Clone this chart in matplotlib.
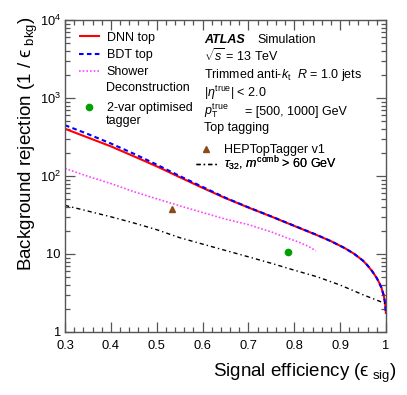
import matplotlib
matplotlib.use('Agg')
import matplotlib.pyplot as plt
from matplotlib.ticker import FixedLocator, LogLocator, MultipleLocator, NullFormatter

plt.rcParams['font.family'] = ['Liberation Sans', 'DejaVu Sans']
plt.rcParams['mathtext.fontset'] = 'custom'
plt.rcParams['mathtext.rm'] = 'Liberation Sans'
plt.rcParams['mathtext.it'] = 'Liberation Sans:italic'
plt.rcParams['mathtext.bf'] = 'Liberation Sans:bold'

# ---------------- data ----------------
eff = [0.30, 0.35, 0.40, 0.45, 0.50, 0.55, 0.60, 0.65, 0.70, 0.75, 0.80, 0.85,
       0.88, 0.91, 0.93, 0.95, 0.96, 0.97, 0.98, 0.985, 0.99, 0.995, 0.998, 1.0]
dnn = [403, 311, 240, 179, 133, 96.6, 70.5, 52, 39.4, 30.2, 22.9, 17.4,
       14.6, 11.9, 10.1, 8.2, 7.1, 6.0, 4.9, 4.3, 3.7, 2.95, 2.35, 1.7]
bdt = [448, 345, 261, 193, 140, 100, 72.5, 52.6, 39.6, 30.3, 23.0, 17.5,
       14.6, 11.9, 10.1, 8.2, 7.1, 6.0, 4.9, 4.3, 3.7, 2.95, 2.35, 1.7]

sd_eff = [0.30, 0.35, 0.40, 0.45, 0.50, 0.55, 0.60, 0.65, 0.70, 0.75, 0.78, 0.81,
          0.83, 0.847]
sd = [125, 99, 80, 63, 51, 41.5, 34, 28, 23.8, 19.2, 16.4, 14.2, 12.6, 11.0]

tau_eff = [0.30, 0.35, 0.40, 0.45, 0.50, 0.55, 0.60, 0.65, 0.70, 0.75, 0.80, 0.85,
           0.90, 0.95, 1.0]
tau = [42, 35.5, 30, 25, 20.5, 16.2, 13.4, 11.1, 9.2, 7.6, 6.2, 5.1, 4.0, 3.0, 2.3]

htt_eff = [0.534]
htt_rej = [37.6]
twovar_eff = [0.787]
twovar_rej = [10.5]

x_ticks = [0.3, 0.4, 0.5, 0.6, 0.7, 0.8, 0.9, 1.0]
x_ticklabels = ['0.3', '0.4', '0.5', '0.6', '0.7', '0.8', '0.9', '1']
y_ticks = [1, 10, 100, 1000, 10000]
y_ticklabels = ['1', '10', r'10$^{2}$', r'10$^{3}$', r'10$^{4}$']

# ---------------- figure ----------------
W, H = 407, 395
fig = plt.figure(figsize=(W / 100, H / 100), dpi=100)
ax = fig.add_axes([65 / W, 1 - 332 / H, (386 - 65) / W, (332 - 20) / H])

def fx(px):
    return px / W

def fy(py):
    return 1 - py / H

l_dnn, = ax.plot(eff, dnn, color='#ff0000', lw=1.5, solid_capstyle='butt')
l_bdt, = ax.plot(eff, bdt, color='#0000ff', lw=1.5, dashes=(2.2, 1.6))
l_sd, = ax.plot(sd_eff, sd, color='#ff44ff', lw=1.2, dashes=(1, 1.2))
l_tau, = ax.plot(tau_eff, tau, color='black', lw=1.0, dashes=(3, 2.2, 1, 2.2))
m_2v, = ax.plot(twovar_eff, twovar_rej, 'o', color='#00a000', ms=4.5, ls='none')
m_htt, = ax.plot(htt_eff, htt_rej, '^', color='#8b4a16', ms=4.5, ls='none')

ax.set_xlim(0.3, 1.0)
ax.set_yscale('log')
ax.set_ylim(1, 1e4)

ax.xaxis.set_major_locator(FixedLocator(x_ticks))
ax.set_xticklabels(x_ticklabels)
ax.xaxis.set_minor_locator(MultipleLocator(0.02))
ax.yaxis.set_major_locator(FixedLocator(y_ticks))
ax.set_yticklabels(y_ticklabels)
ax.yaxis.set_minor_locator(LogLocator(base=10, subs=range(2, 10), numticks=20))
ax.yaxis.set_minor_formatter(NullFormatter())

spine_col = '#555555'
for s in ax.spines.values():
    s.set_color(spine_col)
    s.set_linewidth(1.0)
ax.tick_params(which='both', direction='in', top=True, right=True, color=spine_col,
               width=0.9, labelsize=9.3)
ax.tick_params(which='major', length=7)
ax.tick_params(which='minor', length=3.8)
ax.tick_params(axis='x', pad=6)
ax.tick_params(axis='y', pad=3)

ax.set_xlabel('Signal efficiency (\u03f5$_{\\rm\\ sig}$)', fontsize=13.5)
ax.xaxis.label.set_ha('right')
ax.xaxis.label.set_va('center')
ax.xaxis.set_label_coords(1.034, (332 - 373) / 312)
ax.set_ylabel('Background rejection (1 / \u03f5$_{\\rm\\ bkg}$)', fontsize=13.5)
ax.yaxis.label.set_ha('right')
ax.yaxis.label.set_va('center')
ax.yaxis.set_label_coords((28 - 65) / 321, (332 - 16) / 312)

# ---------------- legends ----------------
fs = 9.0
def entry(handle, label, hx, hy, hl=1.65, pad=0.58):
    lg = ax.legend([handle], [label], loc='center left', bbox_to_anchor=(fx(hx), fy(hy)),
                   bbox_transform=fig.transFigure, frameon=False, borderpad=0,
                   borderaxespad=0, handlelength=hl, handletextpad=pad, numpoints=1,
                   fontsize=fs)
    ax.add_artist(lg)
    return lg

entry(l_dnn, 'DNN top', 79, 37.5)
entry(l_bdt, 'BDT top', 79, 55)
entry(l_sd, 'Shower', 79, 72)
fig.text(fx(106), fy(90.7), 'Deconstruction', fontsize=fs, va='baseline')
entry(m_2v, '2-var optimised', 79, 108)
fig.text(fx(106), fy(124.3), 'tagger', fontsize=fs, va='baseline')

entry(m_htt, 'HEPTopTagger v1', 196, 150, pad=0.62)
entry(l_tau, r'$\tau_{32}$, $m^{\rm comb}$ > 60 GeV', 196, 164, pad=0.62)

# ---------------- labels ----------------
fig.text(fx(204), fy(42.7), 'ATLAS', fontsize=fs, fontweight='bold', fontstyle='italic', va='baseline')
fig.text(fx(257), fy(42.7), 'Simulation', fontsize=fs, va='baseline')
fig.text(fx(204), fy(61), r'$\sqrt{s}$ = 13 TeV', fontsize=fs, va='baseline')
fig.text(fx(204), fy(78.3), r'Trimmed anti-$k_{\rm t}$  $R$ = 1.0 jets', fontsize=fs, va='baseline')
fig.text(fx(204), fy(96.7), r'|$\eta^{\rm true}$| < 2.0', fontsize=fs, va='baseline')
fig.text(fx(204), fy(115), r'$p_{\rm T}^{\rm true}$', fontsize=fs, va='baseline')
fig.text(fx(245), fy(115), '= [500, 1000] GeV', fontsize=fs, va='baseline')
fig.text(fx(204), fy(131), 'Top tagging', fontsize=fs, va='baseline')

fig.savefig('out.png', dpi=100)
